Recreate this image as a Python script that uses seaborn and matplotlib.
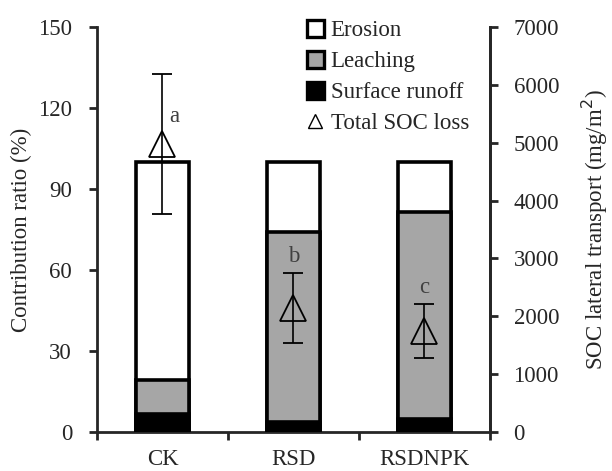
import matplotlib
matplotlib.use('Agg')
import matplotlib.pyplot as plt
import seaborn as sns
import pandas as pd
from matplotlib.patches import Patch
from matplotlib.lines import Line2D

treatments = ['CK', 'RSD', 'RSDNPK']
runoff = [6.5, 3.8, 4.7]
leaching = [12.8, 70.4, 76.7]
erosion = [80.7, 25.8, 18.6]
soc_loss = [4980, 2140, 1750]
soc_err = [1210, 610, 465]
letters = ['a', 'b', 'c']

sns.set_style('ticks')
plt.rcParams['font.family'] = ['Liberation Serif', 'DejaVu Serif']
plt.rcParams['font.size'] = 16.5

df = pd.DataFrame({'treatment': treatments, 'runoff': runoff,
                   'leaching': leaching, 'erosion': erosion})
df['mid'] = df['runoff'] + df['leaching']
df['top'] = df['mid'] + df['erosion']

fig = plt.figure(figsize=(6.12, 4.71), dpi=100)
ax = fig.add_axes([0.1585, 0.0828, 0.642, 0.86])

lw = 2.6
sns.barplot(data=df, x='treatment', y='top', color='white', edgecolor='black',
            linewidth=lw, width=0.4, saturation=1, ax=ax, zorder=2)
sns.barplot(data=df, x='treatment', y='mid', color='#a6a6a6', edgecolor='black',
            linewidth=lw, width=0.4, saturation=1, ax=ax, zorder=3)
sns.barplot(data=df, x='treatment', y='runoff', color='black', edgecolor='black',
            linewidth=lw, width=0.4, saturation=1, ax=ax, zorder=4)

ax.set_xlim(-0.5, 2.5)
ax.set_ylim(0, 150)
ax.set_yticks([0, 30, 60, 90, 120, 150])
ax.set_xlabel('')
ax.set_ylabel('Contribution ratio (%)', labelpad=4)
ax.set_xticks([-0.5, 0.5, 1.5, 2.5], minor=True)
ax.tick_params(axis='x', which='major', length=0, pad=12)
ax.tick_params(axis='x', which='minor', length=6, width=2)
ax.tick_params(axis='y', length=6, width=2, pad=12)
for s in ['left', 'bottom', 'right']:
    ax.spines[s].set_linewidth(2)
ax.spines['top'].set_visible(False)

ax2 = ax.twinx()
ax2.errorbar(range(len(treatments)), soc_loss, yerr=soc_err, fmt='^', ms=19,
             mfc='none', mec='black', mew=1.3, ecolor='black', elinewidth=1.2,
             capsize=7, capthick=1.2, zorder=6)
ax2.set_ylim(0, 7000)
ax2.set_yticks(range(0, 7001, 1000))
ax2.set_ylabel('SOC lateral transport (mg/m$^2$)', labelpad=15)
ax2.tick_params(axis='y', length=6, width=2, pad=11)
ax2.spines['top'].set_visible(False)
ax2.spines['right'].set_linewidth(2)
ax2.spines['left'].set_visible(False)
ax2.spines['bottom'].set_visible(False)

for i, (v, e, l) in enumerate(zip(soc_loss, soc_err, letters)):
    if i == 0:
        ax2.text(i + 0.09, v + 480, l, ha='center', va='center', color='#404040')
    else:
        ax2.text(i, v + e + 280, l, ha='center', va='center', color='#404040')

handles = [Patch(facecolor='white', edgecolor='black', linewidth=2.4),
           Patch(facecolor='#a6a6a6', edgecolor='black', linewidth=2.4),
           Patch(facecolor='black', edgecolor='black', linewidth=2.4),
           Line2D([], [], marker='^', ls='none', mfc='none', mec='black', ms=10, mew=1)]
ax2.legend(handles, ['Erosion', 'Leaching', 'Surface runoff', 'Total SOC loss'],
           loc='upper left', bbox_to_anchor=(0.51, 1.04), frameon=False,
           handlelength=0.75, handleheight=0.75, handletextpad=0.3, labelspacing=0.42,
           borderaxespad=0)

fig.savefig('out.png', dpi=100)
